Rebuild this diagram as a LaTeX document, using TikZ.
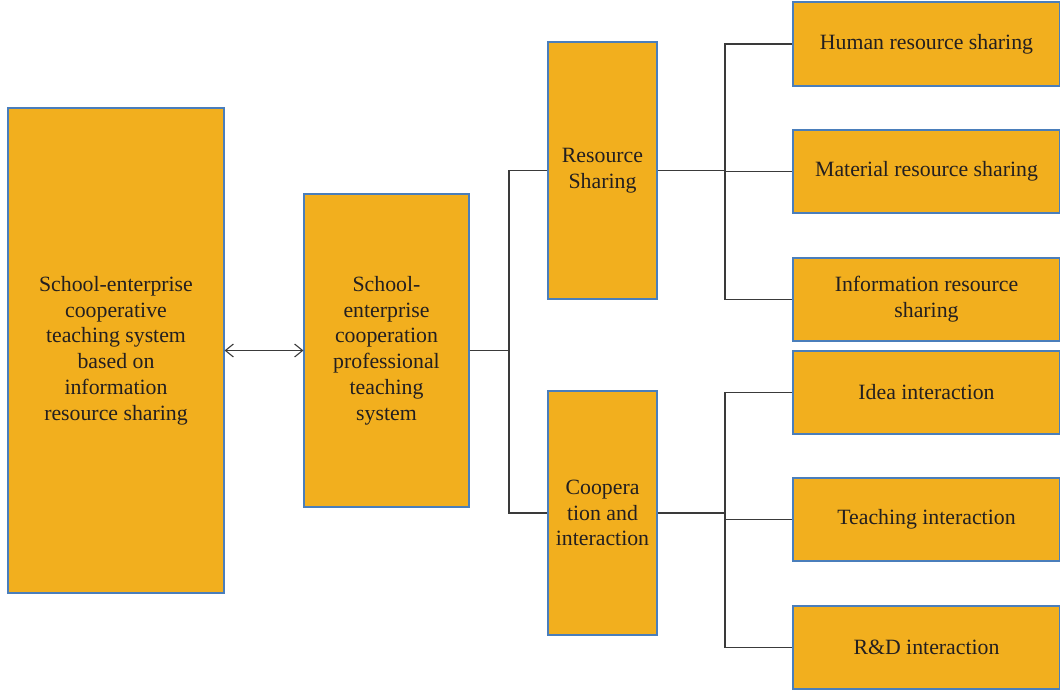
\documentclass[tikz,border=0pt]{standalone}
\usepackage{fontspec}
\setmainfont{Liberation Serif}
\usetikzlibrary{arrows.meta}
\definecolor{boxfill}{HTML}{F2AF1E}
\definecolor{boxline}{HTML}{4A7EBB}
\definecolor{txt}{HTML}{231F20}
\definecolor{conn}{HTML}{3A3A3A}
\tikzset{
  box/.style={rectangle, draw=boxline, fill=boxfill, line width=1.1pt, inner sep=0pt,
    align=center, text=txt, font=\fontsize{21.8}{25.8}\selectfont},
  conn/.style={draw=conn, line width=1.1pt},
}
\begin{document}
\begin{tikzpicture}[x=1pt,y=-1pt]
\useasboundingbox (0,0) rectangle (1060,693);
\node[box, minimum width=216pt, minimum height=485pt] (A) at (116,350.5)
  {School-enterprise\\cooperative\\teaching system\\based on\\information\\resource sharing};
\node[box, minimum width=165pt, minimum height=313pt] (B) at (386.5,350.5)
  {School-\\enterprise\\cooperation\\professional\\teaching\\system};
\node[box, minimum width=109pt, minimum height=257pt] (C) at (602.5,170.5)
  {Resource\\Sharing};
\node[box, minimum width=109pt, minimum height=244pt] (D) at (602.5,513)
  {Coopera\\tion and\\interaction};
\node[box, minimum width=267pt, minimum height=84pt] (R1) at (926.5,44) {Human resource sharing};
\node[box, minimum width=267pt, minimum height=83pt] (R2) at (926.5,171.5) {Material resource sharing};
\node[box, minimum width=267pt, minimum height=83pt] (R3) at (926.5,299.5) {Information resource\\sharing};
\node[box, minimum width=267pt, minimum height=83pt] (R4) at (926.5,392.5) {Idea interaction};
\node[box, minimum width=267pt, minimum height=83pt] (R5) at (926.5,519.5) {Teaching interaction};
\node[box, minimum width=267pt, minimum height=83pt] (R6) at (926.5,647.5) {R\&D interaction};
% arrow
\draw[conn, {Straight Barb[length=8pt,width=13pt]}-{Straight Barb[length=8pt,width=13pt]}] (A.east) -- (B.west);
% connectors
\coordinate (j1) at (509,350.5);
\coordinate (j2) at (725,170.5);
\coordinate (j3) at (725,513);
\draw[conn] (B.east) -- (j1);
\draw[conn] (C.west) -| (j1) |- (D.west);
\draw[conn] (C.east) -- (j2);
\draw[conn] (R1.west) -| (j2) |- (R3.west);
\draw[conn] (j2 |- R2.west) -- (R2.west);
\draw[conn] (D.east) -- (j3);
\draw[conn] (R4.west) -| (j3) |- (R6.west);
\draw[conn] (j3 |- R5.west) -- (R5.west);
\end{tikzpicture}
\end{document}
